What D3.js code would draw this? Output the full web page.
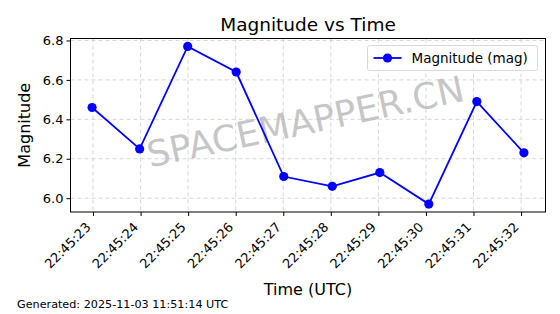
<!DOCTYPE html>
<html lang="en">
<head>
    <meta charset="UTF-8">
    <title>Magnitude vs Time</title>
    <script src="https://cdnjs.cloudflare.com/ajax/libs/d3/7.8.5/d3.min.js"></script>
    <style>
        body {
            margin: 0;
            background: #fff;
            font-family: "DejaVu Sans", sans-serif;
        }
        .grid line {
            stroke: #cccccc;
            stroke-dasharray: 4 3;
            stroke-width: 0.8;
        }
    </style>
</head>
<body>
    <script>
        // Data
        const times = ['22:45:22.98', '22:45:23.98', '22:45:24.99', '22:45:26.01', '22:45:27.01',
                       '22:45:28.03', '22:45:29.03', '22:45:30.06', '22:45:31.07', '22:45:32.06'];
        const magnitudes = [6.46, 6.25, 6.77, 6.64, 6.11, 6.06, 6.13, 5.97, 6.49, 6.23];
        const tickLabels = ['22:45:23', '22:45:24', '22:45:25', '22:45:26', '22:45:27',
                            '22:45:28', '22:45:29', '22:45:30', '22:45:31', '22:45:32'];
        const yTicks = [6.0, 6.2, 6.4, 6.6, 6.8];

        const width = 560, height = 314;
        const margin = { left: 70.5, right: 14.5, top: 38.5, bottom: 102 };

        const toSec = s => {
            const p = s.split(':');
            return +p[0] * 3600 + +p[1] * 60 + +p[2];
        };
        const data = times.map((t, i) => ({ t: toSec(t), v: magnitudes[i] }));

        const svg = d3.select('body')
            .append('svg')
            .attr('width', width)
            .attr('height', height);

        // matplotlib style 5% margins
        const tExt = d3.extent(data, d => d.t);
        const tPad = (tExt[1] - tExt[0]) * 0.05;
        const x = d3.scaleLinear()
            .domain([tExt[0] - tPad, tExt[1] + tPad])
            .range([margin.left, width - margin.right]);

        const vExt = d3.extent(data, d => d.v);
        const vPad = (vExt[1] - vExt[0]) * 0.05;
        const y = d3.scaleLinear()
            .domain([vExt[0] - vPad, vExt[1] + vPad])
            .range([height - margin.bottom, margin.top]);

        const xTickVals = tickLabels.map(toSec);

        // grid
        svg.append('g')
            .attr('class', 'grid')
            .selectAll('line.v')
            .data(xTickVals)
            .join('line')
            .attr('x1', d => x(d)).attr('x2', d => x(d))
            .attr('y1', margin.top).attr('y2', height - margin.bottom);

        svg.append('g')
            .attr('class', 'grid')
            .selectAll('line.h')
            .data(yTicks)
            .join('line')
            .attr('x1', margin.left).attr('x2', width - margin.right)
            .attr('y1', d => y(d)).attr('y2', d => y(d));

        // watermark
        svg.append('text')
            .attr('transform', 'translate(308,134) rotate(-12)')
            .attr('text-anchor', 'middle')
            .attr('font-size', 36)
            .attr('fill', '#b4b4b4')
            .attr('fill-opacity', 0.75)
            .text('SPACEMAPPER.CN');

        // line + markers
        const line = d3.line().x(d => x(d.t)).y(d => y(d.v));
        svg.append('path')
            .datum(data)
            .attr('d', line)
            .attr('fill', 'none')
            .attr('stroke', '#0000ff')
            .attr('stroke-width', 1.8);

        svg.append('g')
            .selectAll('circle')
            .data(data)
            .join('circle')
            .attr('cx', d => x(d.t))
            .attr('cy', d => y(d.v))
            .attr('r', 4.6)
            .attr('fill', '#0000ff');

        // frame
        svg.append('rect')
            .attr('x', margin.left).attr('y', margin.top)
            .attr('width', width - margin.left - margin.right)
            .attr('height', height - margin.top - margin.bottom)
            .attr('fill', 'none')
            .attr('stroke', '#000')
            .attr('stroke-width', 1);

        // axes
        const xAxis = d3.axisBottom(x)
            .tickValues(xTickVals)
            .tickFormat((d, i) => tickLabels[i])
            .tickSize(4).tickSizeOuter(0);
        const gx = svg.append('g')
            .attr('transform', `translate(0,${height - margin.bottom})`)
            .call(xAxis);
        gx.select('.domain').remove();
        gx.selectAll('.tick text')
            .attr('font-size', 13)
            .attr('font-family', '"DejaVu Sans", sans-serif')
            .attr('fill', '#000')
            .attr('text-anchor', 'end')
            .attr('x', 0).attr('y', 0).attr('dy', 0)
            .attr('transform', 'translate(-2,16) rotate(-45)');

        const yAxis = d3.axisLeft(y)
            .tickValues(yTicks)
            .tickFormat(d3.format('.1f'))
            .tickSize(4).tickSizeOuter(0);
        const gy = svg.append('g')
            .attr('transform', `translate(${margin.left},0)`)
            .call(yAxis);
        gy.select('.domain').remove();
        gy.selectAll('.tick text')
            .attr('font-size', 13)
            .attr('font-family', '"DejaVu Sans", sans-serif')
            .attr('fill', '#000')
            .attr('x', -7);

        // title and labels
        svg.append('text')
            .attr('x', (margin.left + width - margin.right) / 2)
            .attr('y', 31)
            .attr('text-anchor', 'middle')
            .attr('font-size', 18.5)
            .text('Magnitude vs Time');

        svg.append('text')
            .attr('transform', `translate(30,${(margin.top + height - margin.bottom) / 2}) rotate(-90)`)
            .attr('text-anchor', 'middle')
            .attr('font-size', 16)
            .text('Magnitude');

        svg.append('text')
            .attr('x', (margin.left + width - margin.right) / 2)
            .attr('y', 295)
            .attr('text-anchor', 'middle')
            .attr('font-size', 16)
            .text('Time (UTC)');

        svg.append('text')
            .attr('x', 17)
            .attr('y', 308)
            .attr('font-size', 11.2)
            .text('Generated: 2025-11-03 11:51:14 UTC');

        // legend
        const lg = svg.append('g').attr('transform', 'translate(367.5,45.5)');
        lg.append('rect')
            .attr('width', 170).attr('height', 25).attr('rx', 2)
            .attr('fill', '#fff').attr('fill-opacity', 0.8)
            .attr('stroke', '#d9d9d9');
        lg.append('line')
            .attr('x1', 6).attr('x2', 34).attr('y1', 12.5).attr('y2', 12.5)
            .attr('stroke', '#0000ff').attr('stroke-width', 1.8);
        lg.append('circle')
            .attr('cx', 20).attr('cy', 12.5).attr('r', 4.6).attr('fill', '#0000ff');
        lg.append('text')
            .attr('x', 44).attr('y', 17.5)
            .attr('font-size', 13.5)
            .text('Magnitude (mag)');
    </script>
</body>
</html>
